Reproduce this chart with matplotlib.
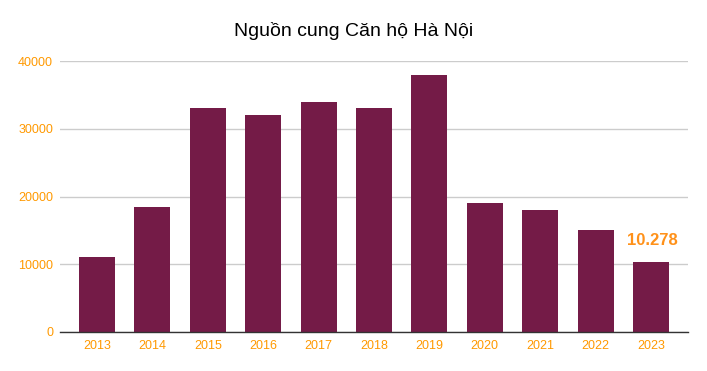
import matplotlib
matplotlib.use("Agg")
import matplotlib.pyplot as plt

years = ["2013", "2014", "2015", "2016", "2017", "2018", "2019", "2020", "2021", "2022", "2023"]
supply = [11000, 18500, 33000, 32000, 34000, 33000, 38000, 19000, 18000, 15000, 10278]
yticks = [0, 10000, 20000, 30000, 40000]
title = "Nguồn cung Căn hộ Hà Nội"
annot = "10.278"

plt.rcParams['font.family'] = ['Liberation Sans', 'DejaVu Sans']

fig = plt.figure(figsize=(7.07, 3.71), dpi=100)
ax = fig.add_axes([60/707, 39/371, 628/707, 271/371])

x = list(range(len(years)))
ax.bar(x, supply, width=0.65, color="#741B47", zorder=3)

ax.set_xlim(-0.67, len(years) - 1 + 0.67)
ax.set_ylim(0, 40000)
ax.set_yticks(yticks)
ax.set_yticklabels([str(v) for v in yticks])
ax.set_xticks(x)
ax.set_xticklabels(years)
ax.tick_params(axis='both', length=0, labelsize=9, colors="#FF9900")
ax.tick_params(axis='x', pad=6)
ax.tick_params(axis='y', pad=5)
ax.grid(axis='y', color="#CCCCCC", linewidth=1, zorder=0)
for s in ['top', 'right', 'left']:
    ax.spines[s].set_visible(False)
ax.spines['bottom'].set_color("#333333")
ax.spines['bottom'].set_linewidth(1)
ax.spines['bottom'].set_zorder(4)

ax.annotate(annot, xy=(x[-1], supply[-1]), xytext=(1, 10), textcoords='offset points',
            ha='center', va='bottom', fontsize=12, fontweight='bold', color="#FF9119")

fig.text(354/707, 1 - 31/371, title, ha='center', va='center', fontsize=14, color="#000000")

fig.savefig("out.png", dpi=100)
